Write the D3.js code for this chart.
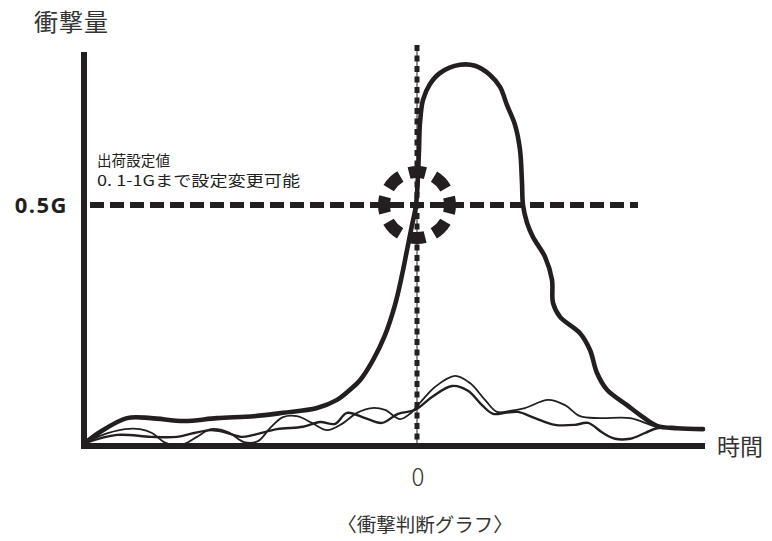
<!DOCTYPE html>
<html lang="ja">
<head>
    <meta charset="utf-8">
    <title>衝撃判断グラフ</title>
    <script src="https://d3js.org/d3.v7.min.js" charset="utf-8"></script>
    <style type="text/css">
        body {
            margin: 0;
            background-color: #fff;
        }
        svg {
            display: block;
        }
        .jp {
            font-family: "Noto Sans CJK JP", sans-serif;
        }
    </style>
</head>
<body>
<script type="text/javascript">
    // values: time (arbitrary units, 0 = trigger), amount in G
    var mainCurve = [
        [-332, 0.004], [-317, 0.027], [-290, 0.056], [-266, 0.056], [-233, 0.050],
        [-200, 0.056], [-163, 0.060], [-134, 0.067], [-100, 0.077], [-80, 0.094],
        [-67, 0.115], [-57, 0.135], [-44, 0.177], [-32, 0.229], [-22, 0.292],
        [-15, 0.354], [-10, 0.406], [-5, 0.458], [-1, 0.500], [1, 0.563],
        [2, 0.615], [3, 0.671], [6, 0.719], [13, 0.752], [23, 0.775],
        [43, 0.792], [58, 0.790], [73, 0.771], [83, 0.746], [90, 0.708],
        [98, 0.667], [103, 0.615], [105, 0.546], [106, 0.500], [110, 0.463],
        [116, 0.433], [128, 0.392], [135, 0.344], [136, 0.296], [143, 0.267],
        [163, 0.233], [173, 0.198], [180, 0.150], [190, 0.115], [210, 0.083],
        [226, 0.058], [240, 0.040], [260, 0.035], [286, 0.033]
    ];

    var thinCurveA = [
        [-332, 0.004], [-317, 0.019], [-292, 0.033], [-277, 0.033], [-265, 0.025],
        [-253, 0.006], [-245, 0.000], [-233, 0.002], [-220, 0.017], [-206, 0.033],
        [-189, 0.027], [-173, 0.006], [-159, 0.008], [-147, 0.035], [-134, 0.058],
        [-120, 0.060], [-105, 0.046], [-90, 0.031], [-75, 0.044], [-60, 0.067],
        [-45, 0.077], [-32, 0.073], [-17, 0.054], [-7, 0.065], [3, 0.088],
        [18, 0.121], [38, 0.144], [53, 0.129], [68, 0.094], [80, 0.069],
        [93, 0.071], [108, 0.077], [131, 0.094], [148, 0.083], [163, 0.060],
        [183, 0.056], [213, 0.056], [240, 0.038], [263, 0.035]
    ];

    var thinCurveB = [
        [-332, 0.004], [-300, 0.021], [-266, 0.017], [-240, 0.017], [-223, 0.025],
        [-206, 0.031], [-193, 0.027], [-176, 0.017], [-163, 0.021], [-140, 0.033],
        [-114, 0.038], [-97, 0.048], [-82, 0.044], [-70, 0.067], [-52, 0.056],
        [-35, 0.046], [-19, 0.065], [-2, 0.073], [15, 0.100], [35, 0.123],
        [51, 0.113], [65, 0.083], [76, 0.065], [88, 0.067], [101, 0.069],
        [118, 0.056], [138, 0.042], [158, 0.042], [171, 0.046], [186, 0.025],
        [198, 0.013], [213, 0.013], [228, 0.025], [240, 0.035], [263, 0.035]
    ];

    var thresholdValue = 0.5;
    var thresholdLabel = "0.5G";
    var triggerTime = 0;
    var triggerLabel = "0";
    var yTitle = "衝撃量";
    var xTitle = "時間";
    var noteLines = ["出荷設定値", "0. 1-1Gまで設定変更可能"];
    var chartTitle = "〈衝撃判断グラフ〉";

    var width = 772,
        height = 541,
        ink = "#231f20";

    var svg = d3.select("body")
        .append("svg")
        .attr("width", width)
        .attr("height", height);

    var x = d3.scaleLinear()
        .domain([-332, 288])
        .range([85, 705]);
    var y = d3.scaleLinear()
        .domain([0, 0.8])
        .range([445, 61]);

    var line = d3.line()
        .x(function(d) { return x(d[0]); })
        .y(function(d) { return y(d[1]); })
        .curve(d3.curveCatmullRom.alpha(0.5));

    // thin curves first so the thick one sits on top
    svg.append("path")
        .attr("d", line(thinCurveB))
        .attr("fill", "none")
        .attr("stroke", ink)
        .attr("stroke-width", 2.4);

    svg.append("path")
        .attr("d", line(thinCurveA))
        .attr("fill", "none")
        .attr("stroke", ink)
        .attr("stroke-width", 1.8);

    svg.append("path")
        .attr("d", line(mainCurve))
        .attr("fill", "none")
        .attr("stroke", ink)
        .attr("stroke-width", 4.6)
        .attr("stroke-linecap", "round");

    // trigger line: hairline with thick dashes on top
    svg.append("line")
        .attr("x1", x(triggerTime)).attr("x2", x(triggerTime))
        .attr("y1", 45).attr("y2", y(0))
        .attr("stroke", ink)
        .attr("stroke-width", 1);
    svg.append("line")
        .attr("x1", x(triggerTime)).attr("x2", x(triggerTime))
        .attr("y1", 45).attr("y2", y(0))
        .attr("stroke", ink)
        .attr("stroke-width", 5)
        .attr("stroke-dasharray", "6,4.5");

    // threshold line
    svg.append("line")
        .attr("x1", 90).attr("x2", 638)
        .attr("y1", y(thresholdValue)).attr("y2", y(thresholdValue))
        .attr("stroke", ink)
        .attr("stroke-width", 6)
        .attr("stroke-dasharray", "14,6");

    // dashed ring round the crossing point
    var r = 33,
        period = 2 * Math.PI * r / 8,
        dash = period * 0.64;
    svg.append("circle")
        .attr("cx", x(triggerTime))
        .attr("cy", y(thresholdValue))
        .attr("r", r)
        .attr("fill", "none")
        .attr("stroke", ink)
        .attr("stroke-width", 12)
        .attr("stroke-dasharray", dash + "," + (period - dash))
        .attr("stroke-dashoffset", dash / 2);

    // axes
    svg.append("line")
        .attr("x1", 84).attr("x2", 84)
        .attr("y1", 52).attr("y2", 449)
        .attr("stroke", ink)
        .attr("stroke-width", 6);
    svg.append("line")
        .attr("x1", 81).attr("x2", 705)
        .attr("y1", 446).attr("y2", 446)
        .attr("stroke", ink)
        .attr("stroke-width", 6);

    // texts
    svg.append("text")
        .attr("class", "jp")
        .attr("x", 34).attr("y", 31)
        .attr("font-size", "24px")
        .attr("letter-spacing", "1px")
        .attr("fill", "#333")
        .text(yTitle);

    svg.append("text")
        .attr("class", "jp")
        .attr("x", 717).attr("y", 455)
        .attr("font-size", "23px")
        .attr("fill", "#333")
        .text(xTitle);

    svg.append("text")
        .attr("x", 68).attr("y", y(thresholdValue) + 8)
        .attr("text-anchor", "end")
        .attr("font-family", "Open Sans")
        .attr("font-weight", "bold")
        .attr("font-size", "22px")
        .attr("letter-spacing", "1.5px")
        .attr("fill", ink)
        .text(thresholdLabel);

    var noteWidths = [73, 203];
    svg.selectAll(".note")
        .data(noteLines)
        .enter()
        .append("text")
        .attr("class", "jp note")
        .attr("x", 97)
        .attr("y", function(d, i) { return 166 + i * 20; })
        .attr("font-size", "15px")
        .attr("textLength", function(d, i) { return noteWidths[i]; })
        .attr("lengthAdjust", "spacingAndGlyphs")
        .attr("fill", ink)
        .text(function(d) { return d; });

    svg.append("text")
        .attr("class", "jp")
        .attr("x", x(triggerTime) + 1).attr("y", 486)
        .attr("text-anchor", "middle")
        .attr("font-size", "24px")
        .attr("font-weight", 300)
        .attr("fill", "#333")
        .text(triggerLabel);

    svg.append("text")
        .attr("class", "jp")
        .attr("x", 425).attr("y", 532)
        .attr("text-anchor", "middle")
        .attr("font-size", "19.5px")
        .attr("fill", "#333")
        .text(chartTitle);
</script>
</body>
</html>
